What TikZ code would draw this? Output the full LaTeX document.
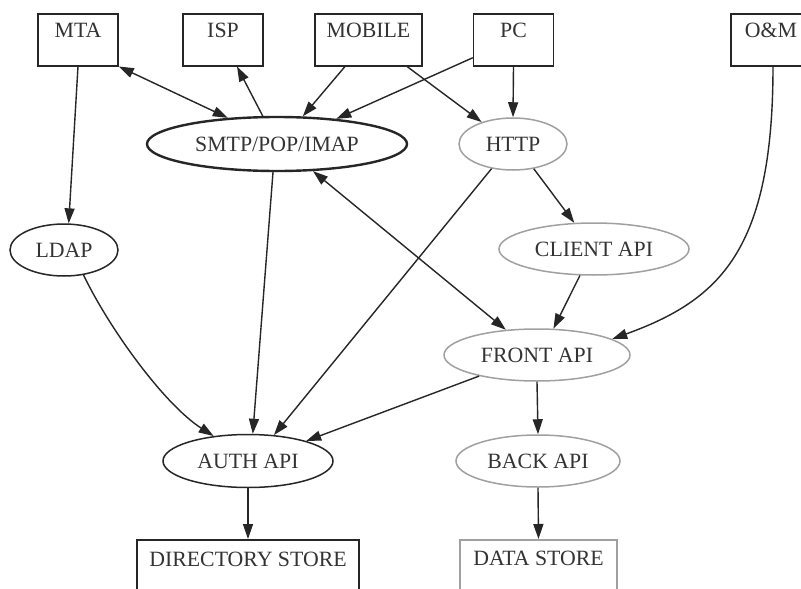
\documentclass[tikz,border=0pt]{standalone}
\usepackage{fontspec}
\setmainfont{Liberation Serif}
\usetikzlibrary{arrows.meta,shapes.geometric}

\definecolor{ink}{HTML}{262626}
\definecolor{txt}{HTML}{333333}
\definecolor{soft}{HTML}{A0A0A0}

\tikzset{
  every node/.style={font=\fontsize{21.8}{23}\selectfont, text=txt},
  box/.style={draw=ink, line width=1.5pt, rectangle, anchor=north,
    inner xsep=0pt, inner ysep=4pt, text height=20pt, text depth=24pt},
  lowbox/.style={box, text height=22pt, text depth=40pt},
  oval/.style={draw=ink, line width=1.5pt, ellipse, inner sep=0pt},
  heavy/.style={line width=2.4pt},
  pale/.style={draw=soft},
  tip/.tip={Triangle[length=15pt,width=10pt]},
  link/.style={draw=ink, line width=1.4pt, -tip},
  twoway/.style={link, tip-tip}
}

\begin{document}
\begin{tikzpicture}[x=1pt,y=-1pt]
\useasboundingbox (0,0) rectangle (801,589);
\clip (0,0) rectangle (801,589);
\fill[white] (0,0) rectangle (801,589);

% top row of sources
\node[box, minimum width=80pt]  (mta)    at (78,13)    {MTA};
\node[box, minimum width=80pt]  (isp)    at (223,13)   {ISP};
\node[box, minimum width=107pt] (mobile) at (368.5,13) {MOBILE};
\node[box, minimum width=80pt]  (pc)     at (513.5,13) {PC};
\node[box, minimum width=80pt]  (om)     at (771,13)   {O\&M};

% protocol layer
\node[oval, heavy, minimum width=260pt, minimum height=54pt] (smtp) at (277,144) {SMTP/POP/IMAP};
\node[oval, pale, minimum width=108pt, minimum height=52pt]  (http) at (513,144) {HTTP};
\node[oval, minimum width=108pt, minimum height=52pt]        (ldap) at (64,250)  {LDAP};
\node[oval, pale, minimum width=190pt, minimum height=52pt]  (client) at (594,249) {CLIENT API};

% service layer
\node[oval, pale, minimum width=186pt, minimum height=52pt]  (front) at (537,355) {FRONT API};
\node[oval, minimum width=170pt, minimum height=53pt]        (auth)  at (248,461) {AUTH API};
\node[oval, pale, minimum width=164pt, minimum height=52pt]  (back)  at (538,461) {BACK API};

% storage
\node[lowbox, heavy, minimum width=222pt] (dir)  at (248,539)   {DIRECTORY STORE};
\node[lowbox, pale, minimum width=157pt]  (data) at (538.5,539) {DATA STORE};

% connectors
\draw[twoway] (mta.south east) -- (smtp.152);
\draw[link] (smtp.117) -- ([xshift=14pt]isp.south);
\draw[link] ([xshift=-23.5pt]mobile.south) -- (smtp.47);
\draw[link] ([yshift=-18pt]pc.west) -- (smtp.23);
\draw[link] ([xshift=38.5pt]mobile.south) -- (http.145);
\draw[link] (pc.south) -- (http.north);
\draw[link] (mta.south) -- (ldap.80);
\draw[link] ([xshift=-4pt]smtp.south) -- (auth.80);
\draw[twoway] (smtp.-37) -- (front.141);
\draw[link] (http.229) -- (auth.45);
\draw[link] (http.-50) -- (client.127);
\draw[link] (client.-118) -- (front.58);
\draw[link] ([xshift=2pt]om.south) .. controls (773,250) and (720,300) .. (front.12);
\draw[link] (ldap.-52) .. controls (110,330) and (165,405) .. (auth.144);
\draw[link] (front.200) -- (auth.19);
\draw[link] (front.south) -- (back.north);
\draw[link] (auth.south) -- (dir.north);
\draw[link] (back.south) -- (data.north);
\end{tikzpicture}
\end{document}
